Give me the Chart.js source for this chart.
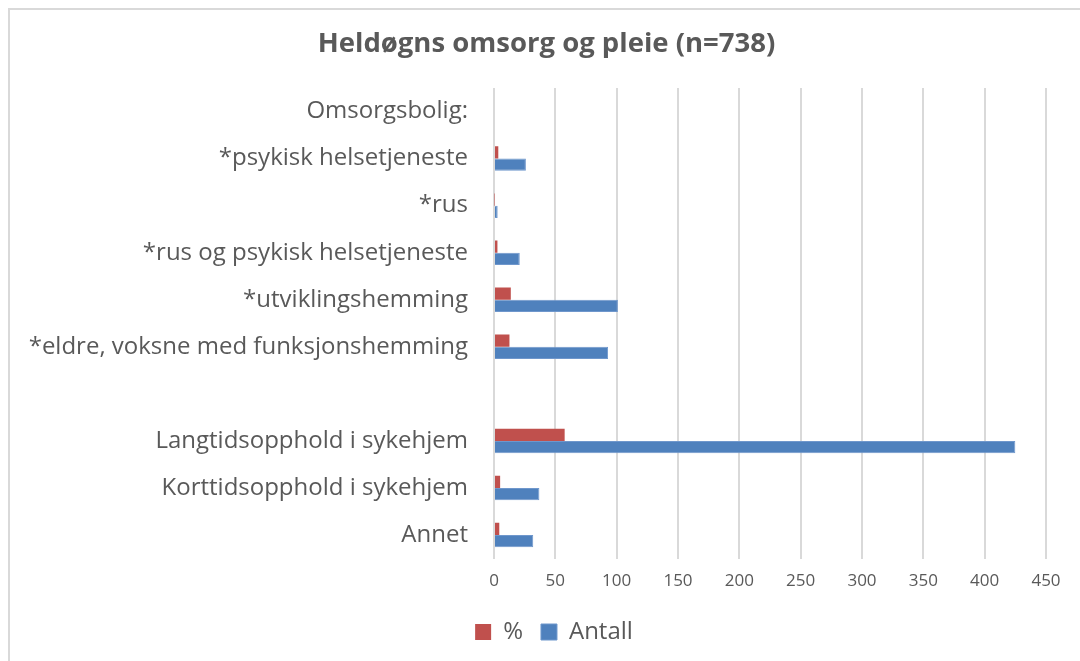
<!DOCTYPE html>
<html>
<head>
<meta charset="utf-8">
<script src="https://cdn.jsdelivr.net/npm/chart.js@4.4.1/dist/chart.umd.min.js"></script>
<style>
html,body{margin:0;padding:0;background:#fff;}
#wrap{position:absolute;left:0;top:0;width:1080px;height:661px;}
#frame{position:absolute;left:8px;top:8px;width:1080px;height:661px;border-left:2px solid #d9d9d9;border-top:2px solid #d9d9d9;box-sizing:border-box;}
canvas{position:absolute;left:0;top:0;}
</style>
</head>
<body>
<div id="wrap">
<div id="frame"></div>
<canvas id="c" width="1080" height="661"></canvas>
</div>
<script>
const categories = [
  "Omsorgsbolig:",
  "*psykisk helsetjeneste",
  "*rus",
  "*rus og psykisk helsetjeneste",
  "*utviklingshemming",
  "*eldre, voksne med funksjonshemming",
  "",
  "Langtidsopphold i sykehjem",
  "Korttidsopphold i sykehjem",
  "Annet"
];
const prosent = [null, 3.5, 0.4, 2.8, 13.7, 12.6, null, 57.6, 5.0, 4.3];
const antall  = [null, 26, 3, 21, 101, 93, null, 425, 37, 32];
const xTicks = [0, 50, 100, 150, 200, 250, 300, 350, 400, 450];
const titleText = "Heldøgns omsorg og pleie (n=738)";

const FONT = "'Open Sans', 'Noto Sans', sans-serif";
const TXT = "#595959";

const shiftBlocks = {
  id: 'shiftBlocks',
  afterLayout(chart) {
    const t = chart.titleBlock;
    if (t) {
      const d = 546.5 - (t.left + t.right) / 2;
      t.left += d; t.right += d;
    }
    const l = chart.legend;
    if (l) {
      const d2 = 554 - (l.left + l.right) / 2;
      l.left += d2; l.right += d2;
      if (l.legendHitBoxes) l.legendHitBoxes.forEach(b => { b.left += d2; });
    }
  }
};

new Chart(document.getElementById('c'), {
  type: 'bar',
  plugins: [shiftBlocks],
  data: {
    labels: categories,
    datasets: [
      { label: '%', data: prosent, backgroundColor: '#C0504D', borderWidth: 0 },
      { label: 'Antall', data: antall, backgroundColor: '#4F81BD', borderColor: '#6f97cc', borderWidth: 1 }
    ]
  },
  options: {
    indexAxis: 'y',
    responsive: false,
    animation: false,
    events: [],
    categoryPercentage: 0.52,
    barPercentage: 1.0,
    layout: { padding: { left: 0, right: 34, top: 5, bottom: 7 } },
    plugins: {
      title: {
        display: true,
        text: titleText,
        color: TXT,
        font: { family: FONT, size: 27.5, weight: 'bold' },
        padding: { top: 23, bottom: 27 }
      },
      legend: {
        position: 'bottom',
        labels: {
          color: TXT,
          font: { family: FONT, size: 24 },
          boxWidth: 16,
          boxHeight: 16,
          padding: 18
        }
      },
      tooltip: { enabled: false }
    },
    scales: {
      x: {
        min: 0,
        max: 450,
        afterBuildTicks: (s) => { s.ticks = xTicks.map(v => ({ value: v })); },
        afterFit: (s) => { s.height -= 1; },
        ticks: { color: TXT, font: { family: FONT, size: 17 }, padding: 12 },
        grid: { color: '#d9d9d9', lineWidth: 2, drawTicks: false },
        border: { display: false }
      },
      y: {
        afterFit: (s) => { s.width = 494; },
        ticks: { color: TXT, font: { family: FONT, size: 24 }, padding: 26, autoSkip: false },
        grid: { display: false, drawTicks: false },
        border: { display: false }
      }
    }
  }
});
</script>
</body>
</html>
